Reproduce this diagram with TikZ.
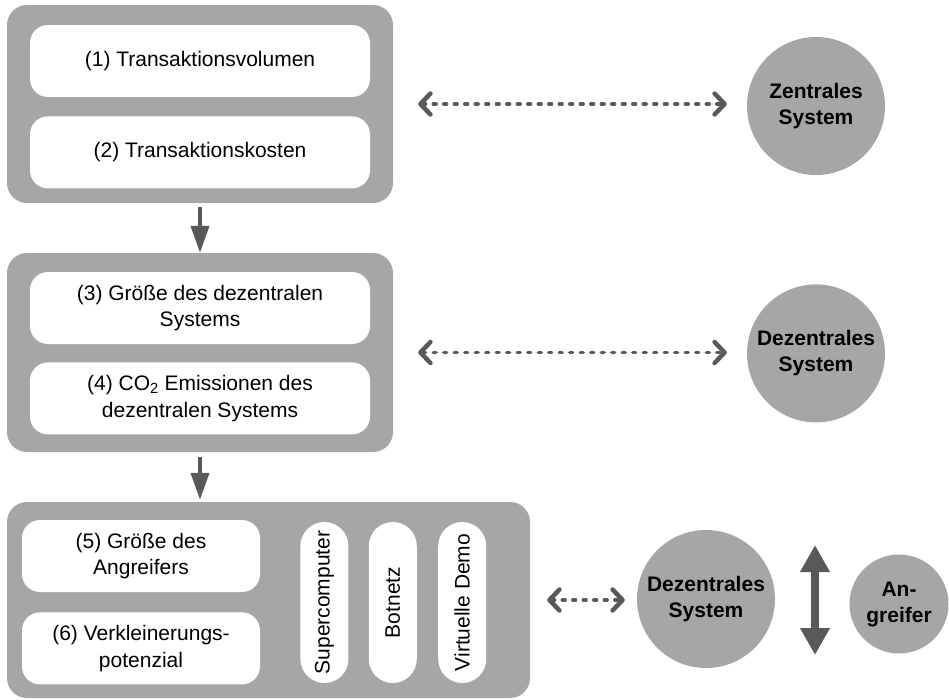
\documentclass[tikz,border=0pt]{standalone}
\usepackage{fontspec}
\setmainfont{Liberation Sans}
\usepackage{graphicx}
\usepackage{tikz}
\usetikzlibrary{
	positioning,
	arrows.meta
}
\definecolor{panelgray}{HTML}{A6A6A6}
\definecolor{arrowgray}{HTML}{595959}
\tikzset{
	every node/.style={
		font=\fontsize{21}{26.5}\selectfont,
		align=center,
		inner sep=0pt
	},
	panel/.style={
		fill=panelgray,
		rounded corners=20pt
	},
	item/.style={
		fill=white,
		rounded corners=18pt,
		minimum height=72pt
	},
	pill/.style={
		fill=white,
		rounded corners=24pt,
		minimum width=48pt,
		minimum height=161pt
	},
	actor/.style={
		circle,
		fill=panelgray,
		font=\fontsize{21}{26}\selectfont\bfseries
	},
	flow/.style={
		draw=arrowgray,
		line width=4pt,
		-{Triangle[length=27pt,width=18pt]}
	},
	link/.style={
		draw=arrowgray,
		line width=3.3pt,
		line cap=round,
		dash pattern=on 3pt off 7.5pt,
		{Straight Barb[length=10pt,width=21pt,line width=4.5pt,round]}-{Straight Barb[length=10pt,width=21pt,line width=4.5pt,round]}
	}
}

\begin{document}
\begin{tikzpicture}[x=1pt,y=-1pt]
	\useasboundingbox (0,0) rectangle (949,699);
	\draw
		node[panel,minimum width=386pt,minimum height=198pt] (p1) at (200,104) {}
		node[panel,minimum width=386pt,minimum height=199pt] (p2) at (200,352.5) {}
		node[panel,minimum width=523pt,minimum height=196pt] (p3) at (268.5,600) {}

		node[item,minimum width=340pt,below=20pt of p1.north] (b1) {(1) Transaktionsvolumen}
		node[item,minimum width=340pt,below=19pt of b1]       (b2) {(2) Transaktionskosten}
		node[item,minimum width=340pt,below=19pt of p2.north] (b3) {(3) Größe des dezentralen\\Systems}
		node[item,minimum width=340pt,below=18pt of b3]       (b4) {(4) CO\textsubscript{2} Emissionen des\\dezentralen Systems}
		node[item,minimum width=238pt,below right=18pt and 15pt of p3.north west] (b5) {(5) Größe des\\Angreifers}
		node[item,minimum width=238pt,below=20pt of b5]       (b6) {(6) Verkleinerungs-\\potenzial}

		node[pill,below right=2pt and 40pt of b5.north east] (sup)  {\rotatebox{90}{Supercomputer}}
		node[pill,right=20pt of sup]                         (bot)  {\rotatebox{90}{Botnetz}}
		node[pill,right=21pt of bot]                         (demo) {\rotatebox{90}{Virtuelle Demo}}

		node[actor,minimum size=138pt] (zent) at (816,106) {Zentrales\\System}
		node[actor,minimum size=138pt,below=109pt of zent] (dez) {Dezentrales\\System}
		node[actor,minimum size=138pt] (dez2) at (706,599) {Dezentrales\\System}
		node[actor,minimum size=99pt]  (ang)  at (899,604) {An-\\greifer}
	;
	\coordinate (vs1) at (815,545);
	\coordinate (vs2) at (815,655);

	\draw[flow,shorten <=4pt] (p1.south) -- (p2.north);
	\draw[flow,shorten <=5pt,shorten >=2pt] (p2.south) -- (p2.south |- p3.north);

	\draw[link,shorten <=25pt,shorten >=20pt] (p1.east) -- (p1.east -| zent.west);
	\draw[link,shorten <=25pt,shorten >=20pt] (p2.east) -- (p2.east -| dez.west);
	\draw[link,shorten <=17pt,shorten >=12pt] (p3.east) -- (p3.east -| dez2.west);

	\draw[flow,line width=8pt,{Triangle[length=27pt,width=28pt]}-{Triangle[length=27pt,width=28pt]}] (vs1) -- (vs2);
\end{tikzpicture}
\end{document}
